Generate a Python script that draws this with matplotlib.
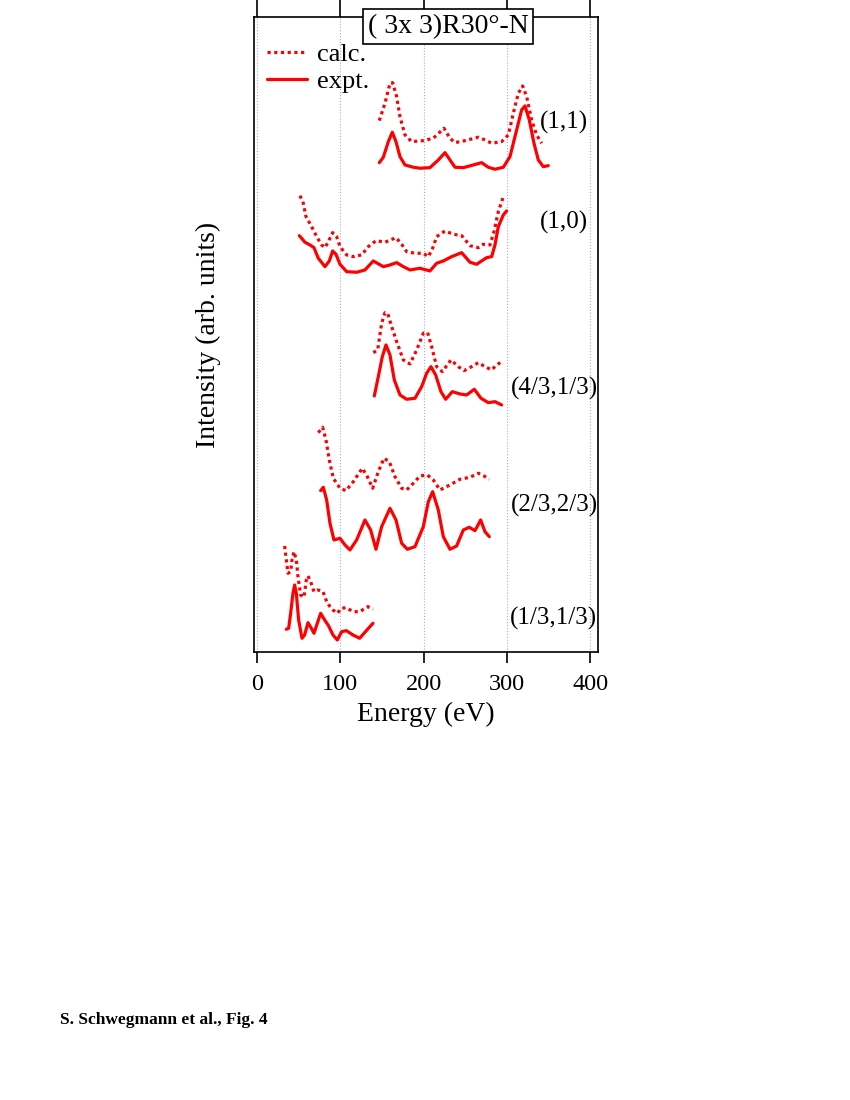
import numpy as np
import matplotlib
matplotlib.use('Agg')
import matplotlib.pyplot as plt

# Energy (eV) and intensity (arb. units, stacked as in the figure)

# (1,1)
e11_calc = [146.8, 153.6, 159.6, 162.8, 167.6, 171.6, 177.6, 185.6, 199.6, 211.6, 224.4, 231.6, 237.6,
            249.6, 265.6, 273.6, 281.6, 293.6, 301.6, 307.6, 313.6, 318.8, 323.6, 329.6, 335.6, 341.6]
i11_calc = [531.3, 548.7, 568.7, 569.3, 555.3, 535.3, 517.0, 510.3, 511.3, 513.7, 523.7, 513.7, 509.3,
            511.3, 514.7, 512.0, 508.7, 510.3, 517.0, 538.7, 558.7, 566.0, 555.3, 532.0, 517.0, 508.7]
e11_expt = [146.8, 151.6, 157.6, 162.4, 166.8, 171.6, 177.6, 187.6, 195.6, 207.6, 217.6, 225.6, 231.6,
            237.6, 247.6, 259.6, 269.6, 277.6, 285.6, 295.6, 303.6, 311.6, 317.6, 321.6, 326.8, 332.4,
            337.6, 343.6, 349.6]
i11_expt = [489.3, 494.7, 510.3, 519.7, 510.3, 495.3, 487.0, 484.7, 483.7, 484.3, 492.0, 499.3, 492.0,
            484.7, 484.3, 487.0, 489.3, 484.7, 482.7, 484.7, 495.3, 522.0, 542.0, 546.0, 532.0, 508.7,
            492.0, 485.3, 486.3]

# (1,0)
e10_calc = [51.6, 55.6, 58.8, 65.6, 71.6, 77.6, 81.6, 85.6, 90.8, 95.6, 99.6, 107.6, 115.6, 125.6,
            133.6, 142.8, 153.6, 166.8, 173.6, 179.6, 189.6, 199.6, 205.6, 210.8, 215.6, 225.6, 235.6,
            245.6, 255.6, 265.6, 271.6, 279.6, 284.4, 289.6, 295.6]
i10_calc = [456.3, 448.7, 435.3, 425.3, 415.3, 407.0, 404.3, 410.3, 419.3, 415.3, 405.3, 397.0, 395.3,
            397.0, 405.3, 411.3, 409.7, 414.3, 407.7, 400.3, 398.7, 398.7, 395.3, 403.7, 415.3, 421.0,
            417.7, 416.3, 406.3, 404.3, 407.7, 407.0, 420.3, 440.3, 455.3]
e10_expt = [50.8, 57.6, 63.6, 68.4, 73.6, 81.6, 86.8, 90.8, 94.8, 99.6, 107.6, 119.6, 129.6, 139.6,
            151.6, 159.6, 167.6, 175.6, 183.6, 195.6, 207.6, 215.6, 223.6, 233.6, 245.6, 255.6, 263.6,
            275.6, 281.6, 285.6, 289.6, 295.6, 299.6]
i10_expt = [416.3, 409.7, 407.0, 404.3, 393.7, 385.3, 391.0, 401.0, 397.7, 387.7, 380.3, 379.7, 382.0,
            391.0, 385.3, 387.0, 389.3, 385.3, 382.0, 383.7, 381.0, 388.7, 391.0, 395.3, 399.3, 389.7,
            387.7, 394.3, 395.3, 407.0, 425.3, 437.0, 441.0]

# (4/3,1/3)
e43_calc = [139.6, 144.8, 149.6, 153.6, 156.8, 161.6, 167.6, 175.6, 183.6, 191.6, 199.6, 204.8, 209.6,
            215.6, 222.4, 232.8, 241.6, 248.4, 257.6, 265.6, 273.6, 281.6, 287.6, 293.6]
i43_calc = [299.3, 302.0, 328.7, 339.3, 338.7, 325.3, 310.3, 292.0, 288.0, 302.0, 318.7, 319.3, 305.3,
            285.3, 280.3, 292.0, 285.3, 281.3, 285.3, 289.3, 285.3, 282.0, 287.0, 290.3]
e43_expt = [140.8, 145.6, 150.4, 154.8, 159.6, 164.8, 171.6, 179.6, 189.6, 197.6, 203.6, 208.8, 214.4,
            220.8, 226.4, 234.4, 243.6, 251.6, 260.8, 268.8, 277.6, 285.6, 293.6]
i43_expt = [256.0, 275.3, 295.3, 307.0, 297.0, 272.0, 257.0, 252.7, 253.7, 265.3, 278.7, 285.3, 277.0,
            260.3, 252.7, 260.3, 258.0, 257.0, 262.7, 253.7, 249.3, 250.3, 247.0]

# (2/3,2/3)
e23_calc = [73.6, 78.8, 82.8, 86.8, 91.6, 99.6, 106.8, 115.6, 126.4, 132.4, 138.8, 145.6, 152.4, 158.8,
            165.6, 173.6, 179.6, 187.6, 195.6, 204.4, 211.6, 219.6, 231.6, 243.6, 255.6, 265.6, 272.4,
            278.8]
i23_calc = [219.3, 224.7, 212.0, 192.0, 173.7, 163.7, 161.3, 170.3, 183.7, 175.3, 163.7, 180.3, 193.7,
            190.3, 175.3, 163.7, 162.0, 168.7, 176.0, 177.0, 172.0, 162.0, 167.0, 172.7, 174.7, 178.7,
            176.0, 172.7]
e23_expt = [76.4, 79.6, 83.6, 87.6, 92.4, 99.6, 105.6, 111.6, 119.6, 129.6, 136.4, 142.8, 149.6, 159.6,
            166.8, 173.6, 180.4, 189.6, 199.6, 205.6, 210.8, 217.6, 223.6, 231.6, 239.6, 247.6, 254.8,
            261.6, 268.4, 273.6, 278.8]
i23_expt = [161.3, 164.7, 152.0, 128.7, 112.0, 113.7, 107.0, 102.0, 112.0, 132.0, 122.0, 102.7, 125.3,
            143.7, 132.0, 108.7, 102.7, 105.3, 125.3, 150.3, 160.3, 142.0, 115.3, 102.7, 106.0, 122.0,
            124.7, 121.3, 132.0, 120.3, 115.3]

# (1/3,1/3)
e13_calc = [33.2, 35.2, 37.2, 40.4, 42.0, 44.4, 47.2, 49.2, 52.4, 56.4, 59.2, 61.2, 64.4, 68.4, 73.2,
            79.2, 84.4, 91.2, 96.4, 101.2, 107.2, 115.2, 123.2, 133.2, 139.2]
i13_calc = [106.0, 92.0, 78.7, 80.3, 92.0, 100.3, 92.0, 75.3, 57.0, 54.7, 72.0, 76.0, 70.3, 60.3, 62.0,
            60.3, 48.7, 42.0, 38.7, 43.7, 44.3, 40.3, 40.3, 45.3, 42.7]
e13_expt = [35.2, 38.0, 40.4, 43.2, 45.2, 47.2, 50.0, 54.0, 57.2, 61.2, 65.2, 68.4, 72.4, 76.4, 81.2,
            86.0, 91.2, 96.4, 101.6, 107.2, 115.2, 123.2, 131.2, 139.2]
i13_expt = [22.7, 23.7, 38.7, 58.7, 67.0, 58.7, 32.0, 13.7, 17.0, 29.3, 23.7, 18.7, 28.7, 38.7, 32.0,
            26.0, 17.0, 12.0, 20.3, 21.3, 17.0, 13.7, 21.3, 28.7]

calc_curves = [(e11_calc, i11_calc), (e10_calc, i10_calc), (e43_calc, i43_calc),
               (e23_calc, i23_calc), (e13_calc, i13_calc)]
expt_curves = [(e11_expt, i11_expt), (e10_expt, i10_expt), (e43_expt, i43_expt),
               (e23_expt, i23_expt), (e13_expt, i13_expt)]

beam_labels = ['(1,1)', '(1,0)', '(4/3,1/3)', '(2/3,2/3)', '(1/3,1/3)']
label_x = [397, 397, 409, 409, 408]
label_y = [529, 429, 264, 147, 34]

energy_ticks = [0, 100, 200, 300, 400]

plt.rcParams['font.family'] = ['Liberation Serif', 'DejaVu Serif']

red = '#ff0000'

fig = plt.figure(figsize=(8.5, 11), dpi=100)
ax = fig.add_axes([0.2988, 0.4073, 0.4047, 0.5773])

ax.set_xlim(-3.6, 409.2)
ax.set_ylim(0, 635)

# faint dotted vertical grid
for xt in energy_ticks:
    ax.axvline(xt, color='#a8a8f0', linestyle=':', linewidth=0.8, zorder=0)

for k, (e, i) in enumerate(calc_curves):
    ax.plot(e, i, color=red, linestyle=(0, (1, 1.1)), linewidth=2.3,
            label='calc.' if k == 0 else None)
for k, (e, i) in enumerate(expt_curves):
    ax.plot(e, i, color=red, linestyle='-', linewidth=2.3, solid_capstyle='round',
            solid_joinstyle='round', label='expt.' if k == 0 else None)

for lab, lx, ly in zip(beam_labels, label_x, label_y):
    ax.text(lx, ly, lab, ha='right', va='center', fontsize=18)

ax.set_xticks(energy_ticks)
ax.set_xticklabels([str(t) for t in energy_ticks], fontsize=17.5)
ax.xaxis.set_ticks_position('both')
ax.tick_params(axis='x', direction='out', length=8, width=1.2, pad=8, labeltop=False)
# top ticks are longer and run off the page
for t in ax.xaxis.get_major_ticks():
    t.tick2line.set_markersize(13)
ax.set_yticks([])
for sp in ax.spines.values():
    sp.set_linewidth(1.2)

ax.set_xlabel('Energy (eV)', fontsize=20, labelpad=4.5)
ax.set_ylabel('Intensity (arb. units)', fontsize=20, labelpad=24)

leg = ax.legend(loc='upper left', bbox_to_anchor=(0.038, 0.96), frameon=False, fontsize=19,
                handlelength=1.5, handletextpad=0.4, labelspacing=0.15,
                borderpad=0, borderaxespad=0)

fig.text(0.527, 0.976, '( 3x 3)R30°-N', ha='center', va='center', fontsize=20,
         bbox=dict(boxstyle='square,pad=0.17', facecolor='white', edgecolor='black', linewidth=1.2))

fig.text(60 / 850, 1 - 1020 / 1100, 'S. Schwegmann et al., Fig. 4', ha='left', va='center',
         fontsize=12.5, fontweight='bold')

fig.savefig('out.png', dpi=100)
